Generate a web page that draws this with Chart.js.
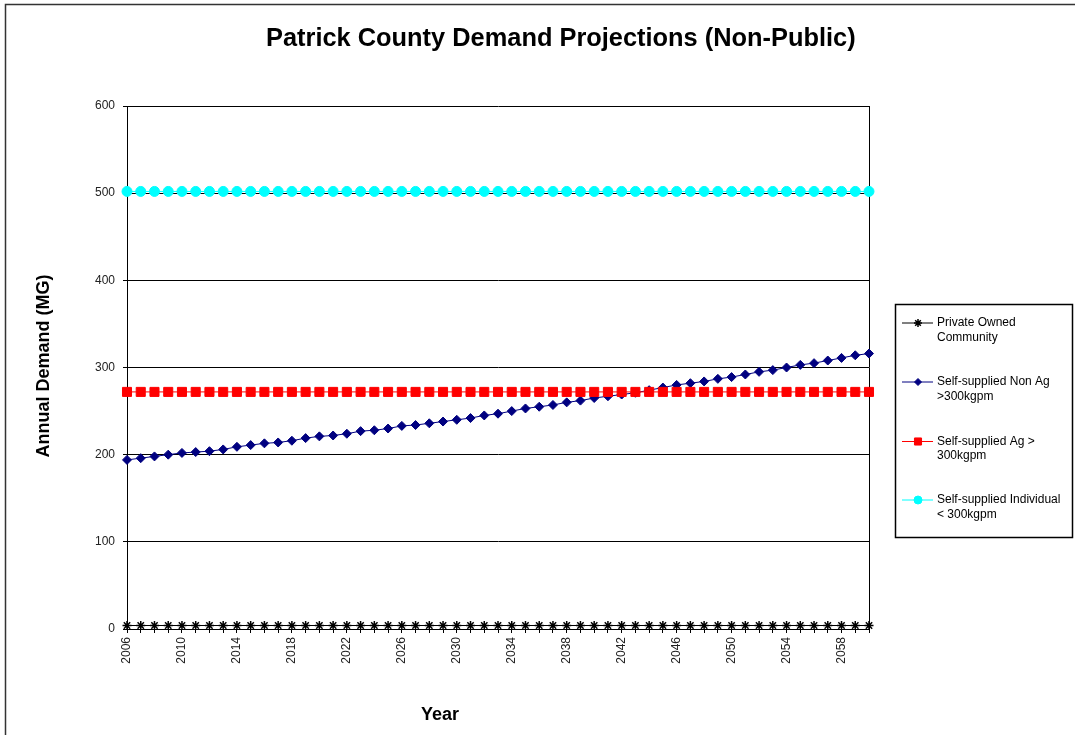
<!DOCTYPE html>
<html>
<head>
<meta charset="utf-8">
<title>Patrick County Demand Projections (Non-Public)</title>
<script src="https://cdn.jsdelivr.net/npm/chart.js@4/dist/chart.umd.min.js"></script>
<style>
  html, body { margin: 0; padding: 0; background: #fff; }
  #wrap { position: relative; width: 1075px; height: 735px; }
</style>
</head>
<body>
<div id="wrap"><canvas id="demandChart" width="1075" height="735"></canvas></div>
<script>
// Data (annual demand, MG)
const years = [
  '2006','2007','2008','2009','2010','2011','2012','2013','2014','2015',
  '2016','2017','2018','2019','2020','2021','2022','2023','2024','2025',
  '2026','2027','2028','2029','2030','2031','2032','2033','2034','2035',
  '2036','2037','2038','2039','2040','2041','2042','2043','2044','2045',
  '2046','2047','2048','2049','2050','2051','2052','2053','2054','2055',
  '2056','2057','2058','2059','2060'
];

const privateOwned = [
  4, 4, 4, 4, 4, 4, 4, 4, 4, 4,
  4, 4, 4, 4, 4, 4, 4, 4, 4, 4,
  4, 4, 4, 4, 4, 4, 4, 4, 4, 4,
  4, 4, 4, 4, 4, 4, 4, 4, 4, 4,
  4, 4, 4, 4, 4, 4, 4, 4, 4, 4,
  4, 4, 4, 4, 4
];

const nonAg = [
  194, 196, 198, 200, 202, 203, 204, 206, 209, 211,
  213, 214, 216, 219, 221, 222, 224, 227, 228, 230,
  233, 234, 236, 238, 240, 242, 245, 247, 250, 253,
  255, 257, 260, 262, 265, 267, 269, 271, 274, 277,
  280, 282, 284, 287, 289, 292, 295, 297, 300, 303,
  305, 308, 311, 314, 316
];

const agSupply = [
  272, 272, 272, 272, 272, 272, 272, 272, 272, 272,
  272, 272, 272, 272, 272, 272, 272, 272, 272, 272,
  272, 272, 272, 272, 272, 272, 272, 272, 272, 272,
  272, 272, 272, 272, 272, 272, 272, 272, 272, 272,
  272, 272, 272, 272, 272, 272, 272, 272, 272, 272,
  272, 272, 272, 272, 272
];

const individual = [
  502, 502, 502, 502, 502, 502, 502, 502, 502, 502,
  502, 502, 502, 502, 502, 502, 502, 502, 502, 502,
  502, 502, 502, 502, 502, 502, 502, 502, 502, 502,
  502, 502, 502, 502, 502, 502, 502, 502, 502, 502,
  502, 502, 502, 502, 502, 502, 502, 502, 502, 502,
  502, 502, 502, 502, 502
];

const yTicks = [0, 100, 200, 300, 400, 500, 600];

const legendLabels = [
  ['Private Owned', 'Community'],
  ['Self-supplied Non Ag', '>300kgpm'],
  ['Self-supplied Ag >', '300kgpm'],
  ['Self-supplied Individual', '< 300kgpm']
];

const FONT = '"Liberation Sans", Arial, Helvetica, sans-serif';

// Title, axis titles, outer frame, plot border and the boxed legend
const excelFrame = {
  id: 'excelFrame',
  beforeDatasetsDraw(chart) {
    const ctx = chart.ctx;
    const a = chart.chartArea;
    ctx.save();
    ctx.strokeStyle = '#000';
    ctx.lineWidth = 1;
    ctx.beginPath();
    ctx.moveTo(Math.round(a.right) + 0.5, a.top);
    ctx.lineTo(Math.round(a.right) + 0.5, a.bottom);
    ctx.stroke();
    ctx.restore();
  },
  afterDraw(chart) {
    const ctx = chart.ctx;
    ctx.save();

    // outer frame (only left and top edges are inside the picture)
    ctx.strokeStyle = '#333';
    ctx.lineWidth = 1.5;
    ctx.beginPath();
    ctx.moveTo(5.5, 735);
    ctx.lineTo(5.5, 4.5);
    ctx.lineTo(1075, 4.5);
    ctx.stroke();

    // chart title
    ctx.fillStyle = '#000';
    ctx.font = 'bold 25.4px ' + FONT;
    ctx.textAlign = 'left';
    ctx.textBaseline = 'alphabetic';
    ctx.fillText('Patrick County Demand Projections (Non-Public)', 266, 46);

    // x axis title
    ctx.font = 'bold 18px ' + FONT;
    ctx.fillText('Year', 421, 720);

    // y axis title
    ctx.save();
    ctx.translate(44, 366);
    ctx.rotate(-Math.PI / 2);
    ctx.textAlign = 'center';
    ctx.textBaseline = 'middle';
    ctx.fillText('Annual Demand (MG)', 0, 0);
    ctx.restore();

    // legend box
    ctx.strokeStyle = '#000';
    ctx.lineWidth = 1.5;
    ctx.strokeRect(895.5, 304.5, 177, 233);

    const rowY = [323, 382, 441.5, 500];
    ctx.font = '12px ' + FONT;
    ctx.textAlign = 'left';
    ctx.textBaseline = 'middle';
    chart.data.datasets.forEach((ds, i) => {
      const y = rowY[i];
      ctx.strokeStyle = ds.borderColor;
      ctx.lineWidth = 1;
      ctx.beginPath();
      ctx.moveTo(902, y);
      ctx.lineTo(933, y);
      ctx.stroke();

      ctx.fillStyle = ds.pointBackgroundColor;
      ctx.strokeStyle = ds.pointBorderColor;
      ctx.lineWidth = ds.pointBorderWidth;
      Chart.helpers.drawPoint(ctx, {
        pointStyle: ds.pointStyle,
        radius: ds.legendRadius,
        rotation: 0,
        borderWidth: ds.pointBorderWidth
      }, 918, y);

      ctx.fillStyle = '#000';
      legendLabels[i].forEach((line, j) => {
        ctx.fillText(line, 937, y + j * 14.5);
      });
    });

    ctx.restore();
  }
};

const ctx = document.getElementById('demandChart');

new Chart(ctx, {
  type: 'line',
  data: {
    labels: years,
    datasets: [
      {
        label: legendLabels[0].join(' '),
        data: privateOwned,
        borderColor: '#000000',
        borderWidth: 1,
        pointStyle: 'star',
        pointRadius: 4.5,
        legendRadius: 4,
        pointBackgroundColor: '#000000',
        pointBorderColor: '#000000',
        pointBorderWidth: 1.5,
        order: 3,
        clip: false
      },
      {
        label: legendLabels[1].join(' '),
        data: nonAg,
        borderColor: '#000080',
        borderWidth: 1,
        pointStyle: 'rectRot',
        pointRadius: 4.5,
        legendRadius: 3.5,
        pointBackgroundColor: '#000080',
        pointBorderColor: '#000080',
        pointBorderWidth: 1,
        order: 2,
        clip: false
      },
      {
        label: legendLabels[2].join(' '),
        data: agSupply,
        borderColor: '#ff0000',
        borderWidth: 1,
        pointStyle: 'rect',
        pointRadius: 6.4,
        legendRadius: 5,
        pointBackgroundColor: '#ff0000',
        pointBorderColor: '#ff0000',
        pointBorderWidth: 1,
        order: 1,
        clip: false
      },
      {
        label: legendLabels[3].join(' '),
        data: individual,
        borderColor: '#00ffff',
        borderWidth: 1,
        pointStyle: 'circle',
        pointRadius: 5,
        legendRadius: 4,
        pointBackgroundColor: '#00ffff',
        pointBorderColor: '#00ffff',
        pointBorderWidth: 1,
        order: 0,
        clip: false
      }
    ]
  },
  options: {
    responsive: false,
    devicePixelRatio: 1,
    animation: false,
    layout: {
      padding: { top: 106, right: 206, bottom: 0, left: 0 }
    },
    plugins: {
      legend: { display: false },
      title: { display: false },
      tooltip: { enabled: false }
    },
    elements: {
      line: { tension: 0 }
    },
    scales: {
      x: {
        type: 'category',
        offset: false,
        afterFit: (scale) => { scale.height = 106; },
        border: { display: true, color: '#000', width: 1 },
        grid: {
          display: true,
          drawOnChartArea: false,
          drawTicks: true,
          tickLength: 4,
          color: '#000'
        },
        ticks: {
          autoSkip: false,
          maxRotation: 90,
          minRotation: 90,
          padding: 4,
          color: '#222',
          font: { family: FONT, size: 12 },
          callback: function (value, index) {
            return index % 4 === 0 ? this.getLabelForValue(value) : '';
          }
        }
      },
      y: {
        min: yTicks[0],
        max: yTicks[yTicks.length - 1],
        afterFit: (scale) => { scale.width = 127; },
        afterBuildTicks: (scale) => {
          scale.ticks = yTicks.map(v => ({ value: v }));
        },
        border: { display: true, color: '#000', width: 1 },
        grid: {
          color: '#000',
          lineWidth: 1,
          drawTicks: true,
          tickLength: 4
        },
        ticks: {
          padding: 8,
          color: '#222',
          font: { family: FONT, size: 12 }
        }
      }
    }
  },
  plugins: [excelFrame]
});
</script>
</body>
</html>
